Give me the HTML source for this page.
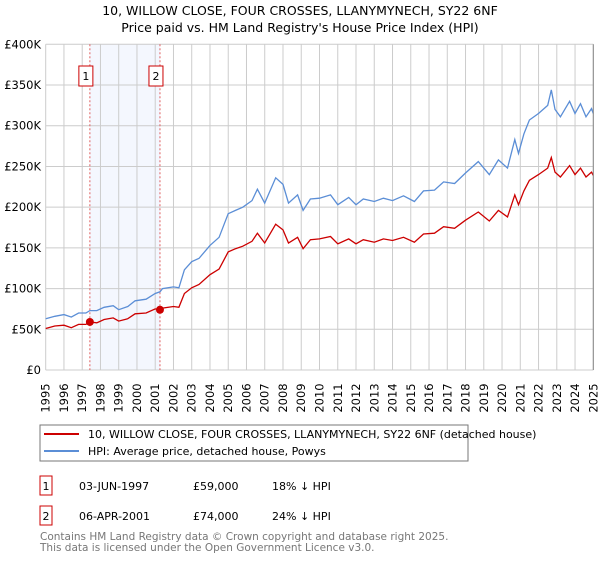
<!DOCTYPE html>
<html><head><meta charset="utf-8"><style>
body{margin:0;background:#fff;font-family:"DejaVu Sans","Liberation Sans",sans-serif}
svg text{font-family:"DejaVu Sans","Liberation Sans",sans-serif}
</style></head><body>
<svg id="c" width="600" height="560" xmlns="http://www.w3.org/2000/svg">
<text x="300" y="15" text-anchor="middle" font-size="12.5">10, WILLOW CLOSE, FOUR CROSSES, LLANYMYNECH, SY22 6NF</text>
<text x="300" y="32" text-anchor="middle" font-size="12.5">Price paid vs. HM Land Registry's House Price Index (HPI)</text>
<g id="plot"></g>
<rect x="40" y="425" width="428" height="36" fill="#fff" stroke="#777"/>
<line x1="44" y1="434" x2="79" y2="434" stroke="#cc0000" stroke-width="2"/>
<text x="88" y="438" font-size="11">10, WILLOW CLOSE, FOUR CROSSES, LLANYMYNECH, SY22 6NF (detached house)</text>
<line x1="44" y1="451" x2="79" y2="451" stroke="#5b8ed6" stroke-width="2"/>
<text x="88" y="455" font-size="11">HPI: Average price, detached house, Powys</text>
<g font-size="11">
<rect x="40" y="476" width="12" height="19" fill="#fff" stroke="#cc0000"/>
<text x="46" y="490" text-anchor="middle">1</text>
<text x="79" y="490">03-JUN-1997</text>
<text x="193" y="490">£59,000</text>
<text x="272" y="490">18% ↓ HPI</text>
<rect x="40" y="506" width="12" height="19" fill="#fff" stroke="#cc0000"/>
<text x="46" y="520" text-anchor="middle">2</text>
<text x="79" y="520">06-APR-2001</text>
<text x="193" y="520">£74,000</text>
<text x="272" y="520">24% ↓ HPI</text>
</g>
<text x="40" y="540" font-size="10.5" fill="#777">Contains HM Land Registry data © Crown copyright and database right 2025.</text>
<text x="40" y="551" font-size="10.5" fill="#777">This data is licensed under the Open Government Licence v3.0.</text>
</svg>
<script>
const dates=[1995.0,1995.5,1996.0,1996.4,1996.8,1997.2,1997.42,1997.8,1998.2,1998.7,1999.0,1999.5,1999.9,2000.5,2001.0,2001.26,2001.4,2002.0,2002.3,2002.6,2003.0,2003.4,2004.0,2004.5,2005.0,2005.4,2005.8,2006.3,2006.6,2007.0,2007.6,2008.0,2008.3,2008.8,2009.1,2009.5,2010.0,2010.6,2011.0,2011.6,2012.0,2012.4,2013.0,2013.5,2014.0,2014.6,2015.2,2015.7,2016.3,2016.8,2017.4,2018.0,2018.7,2019.3,2019.8,2020.3,2020.7,2020.9,2021.2,2021.5,2022.0,2022.5,2022.7,2022.9,2023.2,2023.7,2024.0,2024.3,2024.6,2024.9,2025.0];
const hpiValues=[63,66,68,65,70,70,73,73,77,79,74,78,85,87,94,96,100,102,101,123,133,137,153,163,192,196,200,208,222,205,236,228,205,215,196,210,211,215,203,212,203,210,207,211,208,214,207,220,221,231,229,242,256,240,258,248,283,266,290,307,315,325,344,320,311,330,315,327,311,321,315];
const propValues=[51,54,55,52,56,56,59,58,62,64,60,63,69,70,75,74,76,78,77,94,101,105,117,124,145,149,152,158,168,156,179,172,156,163,149,160,161,164,155,161,155,160,157,161,159,163,157,167,168,176,174,184,194,183,196,188,215,203,220,233,240,248,261,243,237,251,240,248,237,243,239];
const saleDates=[1997.42,2001.26];
const salePrices=[59,74];
const yTicks=[0,50,100,150,200,250,300,350,400];
const yTickLabels=["£0","£50K","£100K","£150K","£200K","£250K","£300K","£350K","£400K"];
const xYears=[1995,1996,1997,1998,1999,2000,2001,2002,2003,2004,2005,2006,2007,2008,2009,2010,2011,2012,2013,2014,2015,2016,2017,2018,2019,2020,2021,2022,2023,2024,2025];

const X0=45.7,X1=593.3,Y0=370,Y1=44.3;
const xs=t=>X0+(t-1995)/30*(X1-X0);
const ys=v=>Y0-v/400*(Y0-Y1);
const NS="http://www.w3.org/2000/svg";
const g=document.getElementById('plot');
function mk(tag,attrs){const e=document.createElementNS(NS,tag);for(const k in attrs)e.setAttribute(k,attrs[k]);g.appendChild(e);return e;}

const shade=mk('rect',{x:xs(saleDates[0]),y:Y1,width:xs(saleDates[1])-xs(saleDates[0]),height:Y0-Y1,fill:'#f4f7fe'});


xYears.forEach(y=>{
  const l=mk('line',{x1:xs(y),x2:xs(y),y1:Y1,y2:Y0,stroke:'#cccccc','stroke-width':1});
  
  
  const t=mk('text',{x:0,y:0,'font-size':11.5,'text-anchor':'middle',transform:`translate(${xs(y)+4},398) rotate(-90)`});
  t.textContent=y;
  
  
});
yTicks.forEach((v,i)=>{
  const l=mk('line',{x1:X0,x2:X1,y1:ys(v),y2:ys(v),stroke:'#cccccc','stroke-width':1});
  
  
  const t=mk('text',{x:41,y:ys(v)+4,'font-size':11.5,'text-anchor':'end'});
  t.textContent=yTickLabels[i];
  
  
});
saleDates.forEach((d,i)=>{
  const l=mk('line',{x1:xs(d),x2:xs(d),y1:Y1,y2:Y0,stroke:'#e06060','stroke-width':1,'stroke-dasharray':'2,2'});
  
  
  const r=mk('rect',{x:xs(d)-11,y:66,width:14,height:20,fill:'#fff',stroke:'#cc0000'});
  
  
  const t=mk('text',{x:xs(d)-4,y:80,'font-size':11,'text-anchor':'middle'});
  t.textContent=String(i+1);
  
  
});
function path(vals,color,name){
  const p=mk('path',{d:vals.map((v,i)=>(i?'L':'M')+xs(dates[i]).toFixed(1)+','+ys(v).toFixed(1)).join(''),fill:'none',stroke:color,'stroke-width':1.3});
  
  
}
path(hpiValues,'#5b8ed6','hpi-line');
path(propValues,'#cc0000','property-price-line');
saleDates.forEach((d,i)=>{
  const c=mk('circle',{cx:xs(d),cy:ys(salePrices[i]),r:4,fill:'#cc0000'});
  
  
});
const ax=mk('line',{x1:X1,x2:X1,y1:Y1,y2:Y0,stroke:'#888','stroke-width':1});


</script>
</body></html>
